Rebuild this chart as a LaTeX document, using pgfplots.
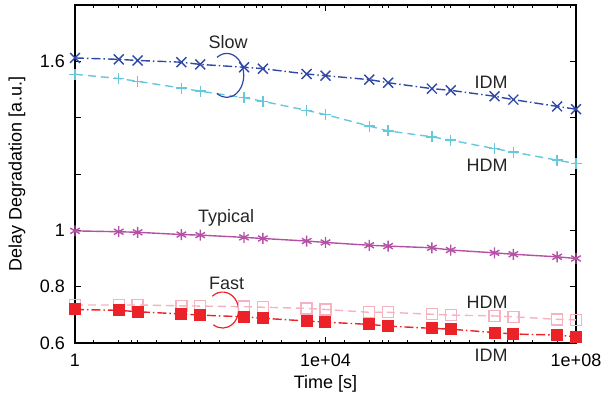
\documentclass[border=0pt]{standalone}
\usepackage{pgfplots}
\pgfplotsset{compat=1.18}
\usepackage{fontspec}
\setmainfont{Liberation Sans}
\definecolor{slowIDM}{RGB}{48,72,165}
\definecolor{slowHDM}{RGB}{102,200,220}
\definecolor{typ}{RGB}{180,80,165}
\definecolor{fastIDM}{RGB}{235,35,40}
\definecolor{fastHDM}{RGB}{245,178,192}
\newcommand{\ff}{\fontsize{18}{21}\selectfont}
\begin{document}
\begin{tikzpicture}
\begin{axis}[
  name=ax,
  scale only axis, width=501pt, height=338pt,
  xmode=log, xmin=1, xmax=1e8, ymin=0.6, ymax=1.8,
  clip=false,
  font=\ff,
  /pgf/number format/assume math mode=true,
  xtick={1,1e4,1e8}, xticklabels={1,1e+04,1e+08},
  minor xtick={2,5,8,10,20,50,80,100,200,500,800,1000,2000,5000,8000,20000,50000,80000,1e5,2e5,5e5,8e5,1e6,2e6,5e6,8e6,1e7,2e7,5e7,8e7},
  ytick={0.6,0.8,1,1.2,1.4,1.6}, yticklabels={0.6,0.8,1,,,1.6},
  yminorticks=false,
  major tick length=6pt, minor tick length=3pt,
  every tick/.style={black, line width=0.8pt},
  axis line style={line width=1.2pt},
  every tick label/.style={inner sep=0pt, font=\ff},
  xticklabel style={yshift=-11pt},
  yticklabel style={xshift=-10pt},
  xlabel={Time [s]}, ylabel={Delay Degradation [a.u.]},
  xlabel style={at={(axis description cs:0.5,-0.0947)}, anchor=north, inner sep=0pt, font=\ff},
  ylabel style={at={(axis description cs:-0.0988,0.5)}, anchor=south, inner sep=0pt, font=\ff},
]
\addplot[slowIDM, line width=1.4pt, dash pattern=on 9pt off 3pt on 1.5pt off 3pt, mark=x, mark size=7pt, mark options={solid, line width=1.4pt}] coordinates {
(1,1.612)(5,1.607)(10,1.603)(50,1.597)(100,1.589)(500,1.579)(1000,1.574)(5000,1.555)(1e4,1.549)(5e4,1.535)(1e5,1.524)(5e5,1.503)(1e6,1.497)(5e6,1.476)(1e7,1.464)(5e7,1.440)(1e8,1.430)};
\addplot[slowHDM, line width=1.4pt, dash pattern=on 8pt off 5pt, mark=+, mark size=5.5pt, mark options={solid, line width=1.4pt}] coordinates {
(1,1.554)(5,1.539)(10,1.529)(50,1.505)(100,1.494)(500,1.471)(1000,1.458)(5000,1.426)(1e4,1.411)(5e4,1.370)(1e5,1.353)(5e5,1.332)(1e6,1.320)(5e6,1.290)(1e7,1.278)(5e7,1.249)(1e8,1.237)};
\addplot[typ, line width=1.4pt, mark=asterisk, mark size=5.5pt, mark options={solid, line width=1.4pt}] coordinates {
(1,0.998)(5,0.995)(10,0.993)(50,0.985)(100,0.983)(500,0.975)(1000,0.971)(5000,0.962)(1e4,0.957)(5e4,0.947)(1e5,0.944)(5e5,0.938)(1e6,0.930)(5e6,0.920)(1e7,0.915)(5e7,0.906)(1e8,0.900)};
\addplot[fastHDM, line width=1.4pt, dash pattern=on 8pt off 5pt, mark=square, mark size=5.5pt, mark options={solid, line width=1.4pt}] coordinates {
(1,0.735)(5,0.735)(10,0.735)(50,0.732)(100,0.731)(500,0.729)(1000,0.727)(5000,0.723)(1e4,0.719)(5e4,0.709)(1e5,0.709)(5e5,0.702)(1e6,0.699)(5e6,0.696)(1e7,0.693)(5e7,0.684)(1e8,0.682)};
\addplot[fastIDM, line width=1.4pt, dash pattern=on 9pt off 3pt on 1.5pt off 3pt, mark=square*, mark size=5.5pt, mark options={solid, line width=1pt}] coordinates {
(1,0.719)(5,0.716)(10,0.711)(50,0.703)(100,0.699)(500,0.693)(1000,0.688)(5000,0.678)(1e4,0.674)(5e4,0.666)(1e5,0.660)(5e5,0.652)(1e6,0.649)(5e6,0.637)(1e7,0.632)(5e7,0.628)(1e8,0.622)};
\node[anchor=base, inner sep=0pt, font=\ff, text=black!85] at (axis cs:278,1.646) {Slow};
\node[anchor=base, inner sep=0pt, font=\ff, text=black!85] at (axis cs:258,1.027) {Typical};
\node[anchor=base, inner sep=0pt, font=\ff, text=black!85] at (axis cs:263,0.790) {Fast};
\node[anchor=base, inner sep=0pt, font=\ff, text=black!85] at (axis cs:4.4e6,1.504) {IDM};
\node[anchor=base, inner sep=0pt, font=\ff, text=black!85] at (axis cs:3.8e6,1.210) {HDM};
\node[anchor=base, inner sep=0pt, font=\ff, text=black!85] at (axis cs:3.8e6,0.724) {HDM};
\node[anchor=base, inner sep=0pt, font=\ff, text=black!85] at (axis cs:4.4e6,0.533) {IDM};
\draw[slowIDM, line width=1.2pt] ([shift={(125:17pt and 22pt)}]axis cs:265,1.550) arc[start angle=125, end angle=-125, x radius=17pt, y radius=22pt];
\draw[fastIDM, line width=1.2pt] ([shift={(130:16pt and 18pt)}]axis cs:227,0.717) arc[start angle=130, end angle=-125, x radius=16pt, y radius=18pt];
\end{axis}
\pgfresetboundingbox
\path ([shift={(-75pt,-55pt)}]ax.south west) rectangle ([shift={(30pt,5pt)}]ax.north east);
\end{tikzpicture}
\end{document}
